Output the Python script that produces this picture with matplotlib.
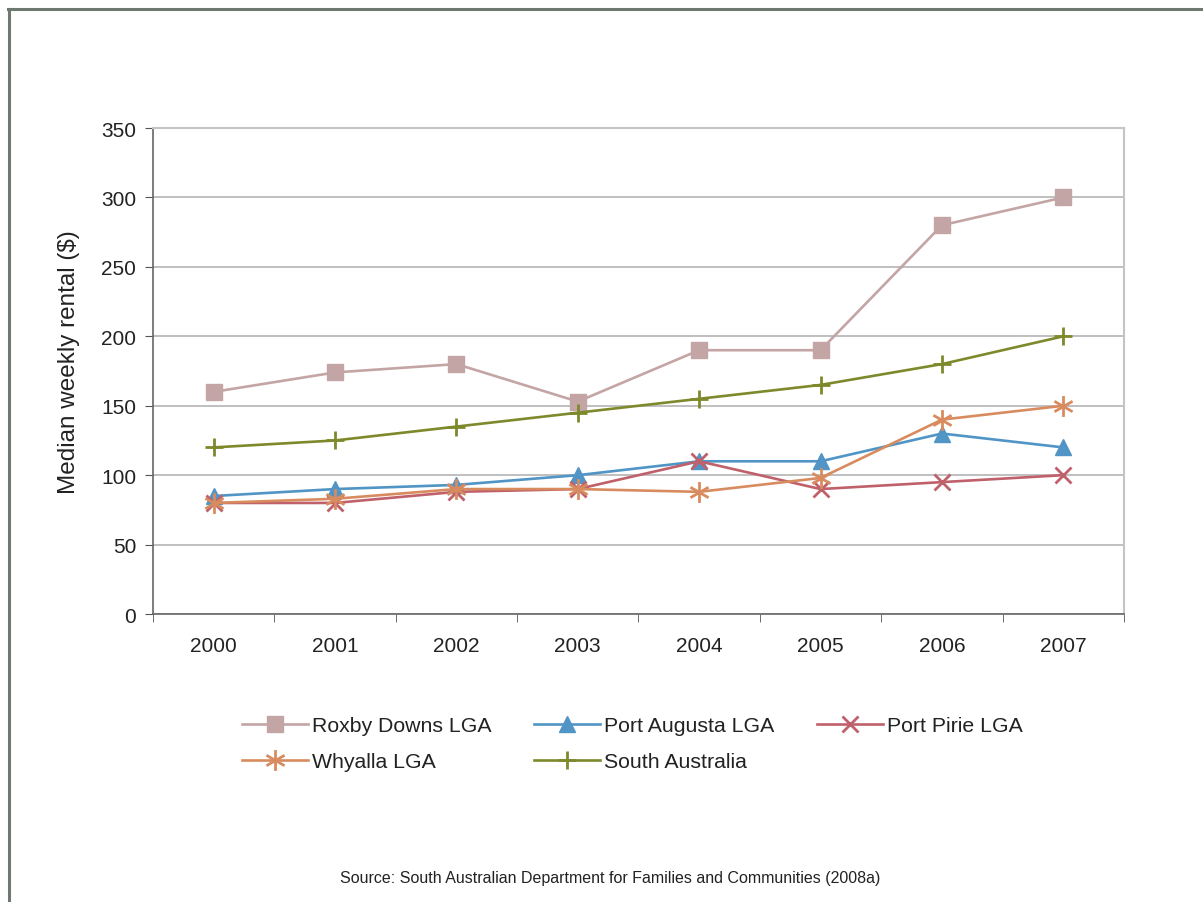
import numpy as np
import matplotlib
matplotlib.use('Agg')
from matplotlib import pyplot as plt
from matplotlib.path import Path
from matplotlib.lines import Line2D

plt.rcParams['font.family'] = ['Liberation Sans', 'DejaVu Sans']

years = ['2000', '2001', '2002', '2003', '2004', '2005', '2006', '2007']
roxby = [160, 174, 180, 153, 190, 190, 280, 300]
port_augusta = [85, 90, 93, 100, 110, 110, 130, 120]
port_pirie = [80, 80, 88, 90, 110, 90, 95, 100]
whyalla = [80, 83, 90, 90, 88, 98, 140, 150]
south_aus = [120, 125, 135, 145, 155, 165, 180, 200]

# asterisk marker (vertical bar + X)
c, s = 0.87, 0.5
ast = Path([(0, -1), (0, 1), (-c, -s), (c, s), (-c, s), (c, -s)],
           [Path.MOVETO, Path.LINETO, Path.MOVETO, Path.LINETO, Path.MOVETO, Path.LINETO])

fig = plt.figure(figsize=(12.03, 9.03), dpi=100)
ax = fig.add_axes([0.1272, 0.3189, 0.8071, 0.5382])

x = np.arange(len(years))
lw = 1.9
l1, = ax.plot(x, roxby, color='#c4a5a5', lw=lw, marker='s', ms=11, mec='#c4a5a5', label='Roxby Downs LGA')
l2, = ax.plot(x, port_augusta, color='#5095c5', lw=lw, marker='^', ms=11, label='Port Augusta LGA')
l3, = ax.plot(x, port_pirie, color='#c0606a', lw=lw, marker='x', ms=11, mew=2, label='Port Pirie LGA')
l4, = ax.plot(x, whyalla, color='#d88b5f', lw=lw, marker=ast, ms=15, mew=2, mfc='none', label='Whyalla LGA')
l5, = ax.plot(x, south_aus, color='#7e892b', lw=lw, marker='+', ms=13, mew=2, label='South Australia')

ax.set_xlim(-0.5, 7.5)
ax.set_ylim(0, 350)
ax.set_yticks(np.arange(0, 351, 50))
ax.set_xticks(x)
ax.set_xticklabels(years)
ax.set_xticks(np.arange(-0.5, 7.6, 1), minor=True)
ax.tick_params(axis='x', which='major', length=0, pad=16, labelsize=15, colors='#222222')
ax.tick_params(axis='x', which='minor', length=6, direction='out', color='#555555')
ax.tick_params(axis='y', length=6, direction='out', color='#555555', pad=6, labelsize=15, labelcolor='#222222')
ax.yaxis.grid(True, color='#b4b4b4', lw=1.2)
ax.set_axisbelow(True)
for side in ['left', 'bottom']:
    ax.spines[side].set_color('#666666')
    ax.spines[side].set_linewidth(1.2)
for side in ['top', 'right']:
    ax.spines[side].set_color('#c4c4c4')
    ax.spines[side].set_linewidth(1.5)

ax.set_ylabel('Median weekly rental ($)', fontsize=17.5, color='#222222')
ax.yaxis.set_label_coords(-0.075, 0.52)

handles = [l1, l4, l2, l5, l3]
fig.legend(handles=handles, labels=[h.get_label() for h in handles], ncol=3,
           loc='upper left', bbox_to_anchor=(0.185, 0.227), frameon=False,
           fontsize=15.3, handlelength=3.1, handletextpad=0.2, columnspacing=2.0,
           labelspacing=0.8, labelcolor='#222222')

fig.text(0.507, 0.027, 'Source: South Australian Department for Families and Communities (2008a)',
         ha='center', va='center', fontsize=11.5, color='#222222')

# outer frame (top and left edges)
fig.add_artist(Line2D([0.0066, 1.0], [0.989, 0.989], transform=fig.transFigure, color='#6e786e', lw=2.2))
fig.add_artist(Line2D([0.0074, 0.0074], [0.0, 0.989], transform=fig.transFigure, color='#6e786e', lw=2.2))

fig.savefig('out.png', dpi=100)
